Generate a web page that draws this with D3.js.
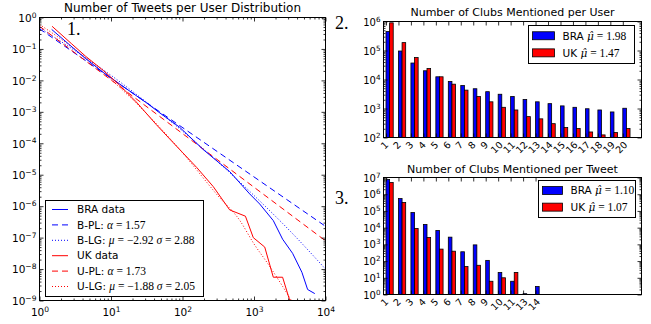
<!DOCTYPE html>
<html><head><meta charset="utf-8">
<script src="https://cdn.jsdelivr.net/npm/d3@7"></script>
<style>body{margin:0;background:#fff}svg{display:block}</style>
</head><body>
<svg id="c" width="651" height="324"></svg>
<script>
// ---------------- DATA ----------------
// Panel 1: Number of Tweets per User Distribution (log-log)
const braDataX = [1.48, 2.51, 4.37, 7.94, 15.8, 31.6, 47.9, 91.2, 195, 457, 871, 1202, 1862, 2512, 3467, 4677, 5623, 7079];
const braDataY = [0.417, 0.148, 0.0501, 0.0174, 5.75e-3, 1.91e-3, 9.3e-4, 3.24e-4, 6.3e-5, 1.26e-5, 2.45e-6, 1.17e-6, 3.47e-7, 8.9e-8, 3.16e-8, 7.9e-9, 2.24e-9, 1.66e-9];
const bplX = [1, 10000];
const bplY = [0.437, 2.29e-7];
const blgX = [1, 3.16, 10, 31.6, 100, 316, 1000, 3162, 10000];
const blgY = [0.468, 0.0871, 0.0145, 2.0e-3, 2.45e-4, 2.5e-5, 2.19e-6, 1.66e-7, 1.0e-8];
const ukDataX = [1.5, 2.82, 4.4, 7.94, 12.9, 22.4, 42.7, 66.1, 100, 158, 269, 457, 759, 977, 1413, 1862, 2512, 3311];
const ukDataY = [0.525, 0.145, 0.0589, 0.020, 7.4e-3, 2.1e-3, 4.0e-4, 1.38e-4, 5.1e-5, 1.7e-5, 4.2e-6, 7.6e-7, 4.8e-7, 1.0e-7, 5.0e-8, 5.5e-9, 5.5e-9, 7.1e-10];
const uplX = [1, 10000];
const uplY = [0.525, 7.9e-8];
const ulgX = [1, 3.16, 10, 31.6, 100, 316, 631, 1000, 1585, 2512, 3548];
const ulgY = [0.603, 0.0955, 0.0107, 8.7e-4, 5.0e-5, 2.09e-6, 3.55e-7, 6.3e-8, 1.41e-8, 2.82e-9, 7.9e-10];
const panel1Legend = [
  {pre:"BRA data", math:null},
  {pre:"B-PL: ", math:[["α",1],[" = 1.57",0]]},
  {pre:"B-LG: ", math:[["μ",1],[" = −2.92 ",0],["σ",1],[" = 2.88",0]]},
  {pre:"UK data", math:null},
  {pre:"U-PL: ", math:[["α",1],[" = 1.73",0]]},
  {pre:"U-LG: ", math:[["μ",1],[" = −1.88 ",0],["σ",1],[" = 2.05",0]]}
];
const xTicks1 = [1, 10, 100, 1000, 10000];
const yTicks1 = [1e-9, 1e-8, 1e-7, 1e-6, 1e-5, 1e-4, 1e-3, 1e-2, 1e-1, 1];

// Panel 2: Number of Clubs Mentioned per User
const userCats = ["1","2","3","4","5","6","7","8","9","10","11","12","13","14","15","16","17","18","19","20"];
const userBRA = [4.5e5, 9.6e4, 3.7e4, 2.0e4, 1.24e4, 8.5e3, 6.2e3, 4.8e3, 3.8e3, 3.1e3, 2.6e3, 2.05e3, 1.7e3, 1.47e3, 1.23e3, 1.1e3, 980, 890, 760, 1020];
const userUK  = [9.0e5, 1.87e5, 5.7e4, 2.4e4, 1.24e4, 6.9e3, 4.3e3, 2.6e3, 1.7e3, 1.1e3, 890, 525, 440, 300, 220, 205, 155, 123, 148, 205];
const userLegend = [["BRA ", "1.98"], ["UK ", "1.47"]];
const yTicks2 = [1e2, 1e3, 1e4, 1e5, 1e6];

// Panel 3: Number of Clubs Mentioned per Tweet
const tweetCats = ["1","2","3","4","5","6","7","8","9","10","11","13","14"];
const tweetBRA = [7.6e6, 5.5e5, 8.0e4, 1.55e4, 6.8e3, 2.7e3, 360, 930, 110, 20.5, 6.2, 1, 3];
const tweetUK  = [5.0e6, 3.2e5, 9.0e3, 2.6e3, 520, 390, 47, 56, 6.2, 10, 21, 0, 0];
const tweetLegend = [["BRA ", "1.10"], ["UK ", "1.07"]];
const yTicks3 = [1, 10, 1e2, 1e3, 1e4, 1e5, 1e6, 1e7];

const BLUE = "#0000ff", RED = "#ff0000";
const SANS = "'DejaVu Sans', sans-serif";
const SERIF = "'Liberation Serif', 'DejaVu Serif', serif";

// ---------------- HELPERS ----------------
const svg = d3.select("#c");

function supLabels(g, fs) {
  g.selectAll(".tick text").each(function(d) {
    const t = d3.select(this);
    const e = Math.round(Math.log10(d));
    t.text("10").attr("font-size", fs);
    t.append("tspan").attr("dy", "-0.55em").attr("font-size", fs * 0.72)
      .text(e < 0 ? "\u2212" + (-e) : String(e));
  });
}
function clean(g) {
  g.select(".domain").remove();
  g.selectAll(".tick line").attr("stroke", "#000").attr("stroke-width", 0.8);
  g.selectAll("text").attr("font-family", SANS).attr("fill", "#000");
}
function minorOf(scale) {
  return scale.ticks().filter(v => Math.abs(Math.log10(v) - Math.round(Math.log10(v))) > 1e-6);
}
function frame(x, y) {
  const [xa, xb] = x.range(), [yb, ya] = y.range();
  svg.append("rect").attr("x", xa).attr("y", ya).attr("width", xb - xa).attr("height", yb - ya)
    .attr("fill", "none").attr("stroke", "#000").attr("stroke-width", 1);
}
function logYAxes(x, y, majors, fs, pad) {
  const [xa, xb] = x.range();
  const L = svg.append("g").attr("transform", `translate(${xa},0)`)
    .call(d3.axisLeft(y).tickValues(majors).tickSize(-4).tickPadding(pad));
  clean(L); L.selectAll("text").attr("dy", "0.36em"); supLabels(L, fs);
  const Lm = svg.append("g").attr("transform", `translate(${xa},0)`)
    .call(d3.axisLeft(y).tickValues(minorOf(y)).tickSize(-2).tickFormat(""));
  clean(Lm);
  const R = svg.append("g").attr("transform", `translate(${xb},0)`)
    .call(d3.axisRight(y).tickValues(majors).tickSize(-4).tickFormat(""));
  clean(R);
  const Rm = svg.append("g").attr("transform", `translate(${xb},0)`)
    .call(d3.axisRight(y).tickValues(minorOf(y)).tickSize(-2).tickFormat(""));
  clean(Rm);
}

// ---------------- PANEL 1 ----------------
(function() {
  const x = d3.scaleLog().domain([1, 1e4]).range([39.5, 325.5]);
  const y = d3.scaleLog().domain([1e-9, 1]).range([300.5, 17.5]);
  const [xa, xb] = x.range(), [yb, ya] = y.range();

  svg.append("clipPath").attr("id", "clip1").append("rect")
    .attr("x", xa).attr("y", ya).attr("width", xb - xa).attr("height", yb - ya);

  const line = d3.line().x(d => x(d[0])).y(d => y(d[1]));
  const smooth = d3.line().x(d => x(d[0])).y(d => y(d[1])).curve(d3.curveMonotoneX);
  const series = [
    {xs: blgX, ys: blgY, c: BLUE, dash: "1,2", gen: smooth},
    {xs: ulgX, ys: ulgY, c: RED, dash: "1,2", gen: smooth},
    {xs: bplX, ys: bplY, c: BLUE, dash: "6,4", gen: line},
    {xs: uplX, ys: uplY, c: RED, dash: "6,4", gen: line},
    {xs: braDataX, ys: braDataY, c: BLUE, dash: null, gen: line},
    {xs: ukDataX, ys: ukDataY, c: RED, dash: null, gen: line}
  ];
  const gl = svg.append("g").attr("clip-path", "url(#clip1)");
  series.forEach(s => {
    gl.append("path").datum(s.xs.map((v, i) => [v, s.ys[i]]))
      .attr("d", s.gen).attr("fill", "none").attr("stroke", s.c)
      .attr("stroke-width", 1).attr("stroke-dasharray", s.dash);
  });

  frame(x, y);
  const B = svg.append("g").attr("transform", `translate(0,${yb})`)
    .call(d3.axisBottom(x).tickValues(xTicks1).tickSize(-4).tickPadding(8));
  clean(B); supLabels(B, 10.5);
  const Bm = svg.append("g").attr("transform", `translate(0,${yb})`)
    .call(d3.axisBottom(x).tickValues(minorOf(x)).tickSize(-2).tickFormat(""));
  clean(Bm);
  const T = svg.append("g").attr("transform", `translate(0,${ya})`)
    .call(d3.axisTop(x).tickValues(xTicks1).tickSize(-4).tickFormat(""));
  clean(T);
  const Tm = svg.append("g").attr("transform", `translate(0,${ya})`)
    .call(d3.axisTop(x).tickValues(minorOf(x)).tickSize(-2).tickFormat(""));
  clean(Tm);
  logYAxes(x, y, yTicks1, 10.5, 3);

  svg.append("text").attr("x", (xa + xb) / 2).attr("y", 12).attr("text-anchor", "middle")
    .attr("font-family", SANS).attr("font-size", 12).text("Number of Tweets per User Distribution");
  svg.append("text").attr("x", 67).attr("y", 35).attr("font-family", SERIF).attr("font-size", 18).text("1.");

  const lg = svg.append("g");
  lg.append("rect").attr("x", 45.5).attr("y", 200.5).attr("width", 158).attr("height", 96)
    .attr("fill", "#fff").attr("stroke", "#000").attr("stroke-width", 1);
  const styles = [[BLUE, null], [BLUE, "6,4"], [BLUE, "1,2"], [RED, null], [RED, "6,4"], [RED, "1,2"]];
  panel1Legend.forEach((it, i) => {
    const yy = 209.5 + i * 15.4;
    lg.append("line").attr("x1", 52).attr("x2", 68).attr("y1", yy).attr("y2", yy)
      .attr("stroke", styles[i][0]).attr("stroke-width", 1).attr("stroke-dasharray", styles[i][1]);
    const t = lg.append("text").attr("x", 77).attr("y", yy).attr("dy", "0.36em")
      .attr("font-family", SANS).attr("font-size", 10.5).text(it.pre);
    if (it.math) it.math.forEach(([s, it2]) => {
      t.append("tspan").attr("font-family", SERIF).attr("font-style", it2 ? "italic" : "normal")
        .attr("font-size", 11.5).text(s);
    });
  });
})();

// ---------------- BAR PANELS ----------------
function barPanel(cats, bra, uk, legend, yTicks, yDomain, yRange, title, titleY, num, numY, legBox) {
  const x = d3.scaleLinear().domain([0.8, 21.5]).range([383.5, 641.5]);
  const y = d3.scaleLog().domain(yDomain).range(yRange).clamp(true);
  const [xa, xb] = x.range(), [yb, ya] = y.range();
  const w = 0.29;
  const pos = cats.map((c, i) => i + 1);
  const g = svg.append("g");
  const bar = (vals, off, col) => g.selectAll(null)
    .data(vals.map((v, i) => [pos[i], v]).filter(p => p[1] > 0))
    .join("rect")
    .attr("x", p => x(p[0] + off))
    .attr("width", p => x(p[0] + off + w) - x(p[0] + off))
    .attr("y", p => Math.min(y(p[1]), yb - 0.8))
    .attr("height", p => Math.max(yb - y(p[1]), 0.8))
    .attr("fill", col).attr("stroke", "#000").attr("stroke-width", 0.8);
  bar(bra, 0, BLUE);
  bar(uk, w, RED);

  frame(x, y);
  const B = svg.append("g").attr("transform", `translate(0,${yb})`)
    .call(d3.axisBottom(x).tickValues(pos).tickSize(-4).tickFormat(""));
  clean(B);
  const T = svg.append("g").attr("transform", `translate(0,${ya})`)
    .call(d3.axisTop(x).tickValues(pos).tickSize(-4).tickFormat(""));
  clean(T);
  logYAxes(x, y, yTicks, 10, 3);

  cats.forEach((c, i) => {
    const fs = 9.5;
    const len = c.length * 0.62 * fs;
    const h = (len + fs * 0.75) * 0.7071;
    svg.append("text").attr("font-family", SANS).attr("font-size", fs)
      .attr("text-anchor", "middle").attr("dominant-baseline", "central")
      .attr("transform", `translate(${x(pos[i]) - 1.5},${yb + 3 + h / 2}) rotate(-45)`)
      .text(c);
  });

  svg.append("text").attr("x", (xa + xb) / 2).attr("y", titleY).attr("text-anchor", "middle")
    .attr("font-family", SANS).attr("font-size", 11).text(title);
  svg.append("text").attr("x", 335).attr("y", numY).attr("font-family", SERIF).attr("font-size", 18).text(num);

  const [lx, ly, lw, lh, pw] = legBox;
  g.append("rect").attr("x", lx).attr("y", ly).attr("width", lw).attr("height", lh)
    .attr("fill", "#fff").attr("stroke", "#000").attr("stroke-width", 1);
  legend.forEach(([name, mu], i) => {
    const yy = ly + lh * (i === 0 ? 0.27 : 0.72);
    g.append("rect").attr("x", lx + 4).attr("y", yy - 4).attr("width", pw).attr("height", 8)
      .attr("fill", i === 0 ? BLUE : RED).attr("stroke", "#000").attr("stroke-width", 0.8);
    const t = g.append("text").attr("x", lx + pw + 12).attr("y", yy).attr("dy", "0.36em")
      .attr("font-family", SANS).attr("font-size", 10.5).text(name);
    t.append("tspan").attr("font-family", "'DejaVu Serif', serif").attr("font-style", "italic")
      .attr("font-size", 10.5).text("μ\u0302");
    t.append("tspan").attr("font-family", SERIF).attr("font-size", 11.5).text(" = " + mu);
  });
}

barPanel(userCats, userBRA, userUK, userLegend, yTicks2, [1e2, 1e6], [137.5, 21.5],
  "Number of Clubs Mentioned per User", 16, "2.", 29, [528.5, 25.5, 106, 38, 22]);
barPanel(tweetCats, tweetBRA, tweetUK, tweetLegend, yTicks3, [1, 1e7], [294.5, 177.5],
  "Number of Clubs Mentioned per Tweet", 173, "3.", 204, [538.5, 180.5, 97, 37, 20]);
</script>
</body></html>
